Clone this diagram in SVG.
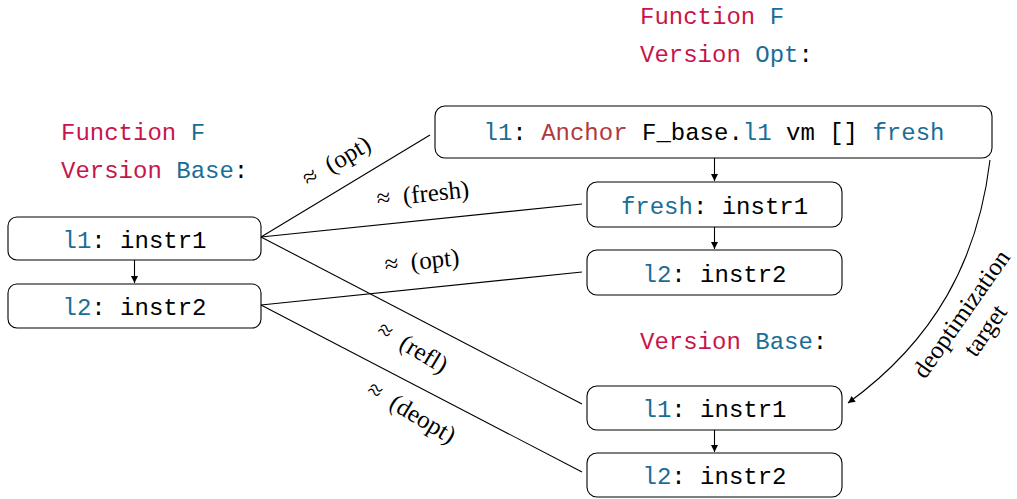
<svg xmlns="http://www.w3.org/2000/svg" width="1017" height="499" viewBox="0 0 1017 499">
<style>
.box{fill:#fff;stroke:#000;stroke-width:1.1}
.tt{font-family:"Liberation Mono","DejaVu Sans Mono",monospace;font-size:24px;fill:#000}
.kw{fill:#C8144B}
.id{fill:#1A6E96}
.an{fill:#B03A3A}
.lbl{font-family:"Liberation Serif","DejaVu Serif",serif;font-size:25px;fill:#000}
.ln{stroke:#000;stroke-width:1.1;fill:none}
</style>
<defs>
<marker id="ah" viewBox="0 0 10 10" refX="10" refY="5" markerWidth="7" markerHeight="7" markerUnits="userSpaceOnUse" orient="auto">
<path d="M0,0 L10,5 L0,10 z" fill="#000"/>
</marker>
</defs>

<g id="title-base" class="tt">
<text x="61" y="140"><tspan class="kw">Function</tspan> <tspan class="id">F</tspan></text>
<text x="61" y="178"><tspan class="kw">Version</tspan> <tspan class="id">Base</tspan>:</text>
</g>
<g id="title-opt" class="tt">
<text x="640" y="24"><tspan class="kw">Function</tspan> <tspan class="id">F</tspan></text>
<text x="640" y="62"><tspan class="kw">Version</tspan> <tspan class="id">Opt</tspan>:</text>
</g>
<g id="title-base2" class="tt">
<text x="640" y="349"><tspan class="kw">Version</tspan> <tspan class="id">Base</tspan>:</text>
</g>

<g id="left-l1">
<rect class="box" x="8" y="217" width="253" height="43" rx="9"/>
<text class="tt" x="134.5" y="248" text-anchor="middle"><tspan class="id">l1</tspan>: instr1</text>
</g>
<g id="left-l2">
<rect class="box" x="8" y="284" width="253" height="44" rx="9"/>
<text class="tt" x="134.5" y="315" text-anchor="middle"><tspan class="id">l2</tspan>: instr2</text>
</g>
<g id="opt-l1">
<rect class="box" x="435" y="106" width="557" height="52" rx="10"/>
<text class="tt" x="714" y="140" text-anchor="middle"><tspan class="id">l1</tspan>: <tspan class="an">Anchor</tspan> F_base.<tspan class="id">l1</tspan> vm [] <tspan class="id">fresh</tspan></text>
</g>
<g id="opt-fresh">
<rect class="box" x="587" y="182" width="255" height="45" rx="10"/>
<text class="tt" x="714.5" y="214" text-anchor="middle"><tspan class="id">fresh</tspan>: instr1</text>
</g>
<g id="opt-l2">
<rect class="box" x="587" y="250" width="255" height="45" rx="10"/>
<text class="tt" x="714.5" y="282" text-anchor="middle"><tspan class="id">l2</tspan>: instr2</text>
</g>
<g id="base-l1">
<rect class="box" x="587" y="386" width="255" height="44" rx="10"/>
<text class="tt" x="714.5" y="417" text-anchor="middle"><tspan class="id">l1</tspan>: instr1</text>
</g>
<g id="base-l2">
<rect class="box" x="587" y="453" width="255" height="44" rx="10"/>
<text class="tt" x="714.5" y="484" text-anchor="middle"><tspan class="id">l2</tspan>: instr2</text>
</g>

<g id="connectors">
<line class="ln" x1="134.5" y1="260" x2="134.5" y2="283" marker-end="url(#ah)"/>
<line class="ln" x1="714.5" y1="158" x2="714.5" y2="181" marker-end="url(#ah)"/>
<line class="ln" x1="714.5" y1="227" x2="714.5" y2="249" marker-end="url(#ah)"/>
<line class="ln" x1="714.5" y1="430" x2="714.5" y2="452" marker-end="url(#ah)"/>
<line class="ln" x1="261" y1="237" x2="430" y2="135"/>
<line class="ln" x1="261" y1="237" x2="582" y2="204"/>
<line class="ln" x1="261" y1="237" x2="582" y2="404"/>
<line class="ln" x1="261" y1="305" x2="582" y2="272"/>
<line class="ln" x1="261" y1="305" x2="582" y2="472"/>
<path class="ln" d="M990,160 C978,260 935,340 848,403" marker-end="url(#ah)"/>
<text class="lbl" transform="translate(337,162) rotate(-31)" text-anchor="middle" y="7">≈&#160; (opt)</text>
<text class="lbl" transform="translate(423,195) rotate(-6)" text-anchor="middle" y="7">≈&#160; (fresh)</text>
<text class="lbl" transform="translate(422,262) rotate(-6)" text-anchor="middle" y="7">≈&#160; (opt)</text>
<text class="lbl" transform="translate(412,348) rotate(31)" text-anchor="middle" y="7">≈&#160; (refl)</text>
<text class="lbl" transform="translate(411,413) rotate(31)" text-anchor="middle" y="7">≈&#160; (deopt)</text>
<g transform="translate(973,322) rotate(-55)">
<text class="lbl" text-anchor="middle" y="-6">deoptimization</text>
<text class="lbl" text-anchor="middle" y="23">target</text>
</g>
</g>
</svg>
